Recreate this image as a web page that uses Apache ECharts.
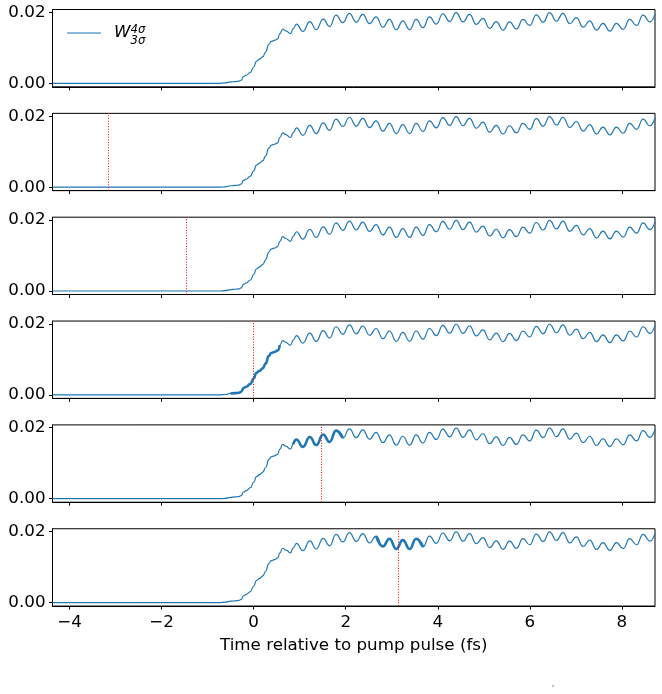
<!DOCTYPE html>
<html><head><meta charset="utf-8">
<script src="https://cdn.jsdelivr.net/npm/echarts@6/dist/echarts.min.js"></script>
<style>html,body{margin:0;padding:0;background:#fff}#c{width:662px;height:694px}</style>
</head><body><div id="c"></div>
<script>
// ---- data ----
const times = [-4.37,-1.20,-0.75,-0.62,-0.50,-0.40,-0.32,-0.27,-0.22,-0.16,-0.07,0.00,0.06,0.13,0.20,0.26,0.33,0.38,0.45,0.52,0.57,0.63,0.70,0.80,0.86,0.93,
1.07,1.22,1.36,1.51,1.65,1.79,1.94,2.08,2.23,2.37,2.52,2.66,2.81,2.95,3.10,3.24,3.39,3.53,3.68,3.82,3.97,4.11,4.26,4.40,4.55,4.69,4.84,4.98,
5.13,5.27,5.42,5.56,5.71,5.85,6.00,6.14,6.29,6.43,6.58,6.72,6.87,7.01,7.16,7.30,7.45,7.59,7.74,7.88,8.03,8.17,8.32,8.46,8.61,8.72];
const values = [0,0,0.0000,0.0001,0.0004,0.0005,0.0006,0.0009,0.0019,0.0023,0.0031,0.0046,0.0062,0.0068,0.0075,0.0088,0.0110,0.0118,0.0121,0.0125,0.0140,0.0153,0.0148,0.0140,0.0154,0.0167,
0.0146,0.0174,0.0151,0.0181,0.0160,0.0192,0.0171,0.0197,0.0172,0.0194,0.0168,0.0187,0.0158,0.0180,0.0151,0.0176,0.0151,0.0180,0.0157,0.0187,0.0167,0.0196,0.0174,0.0199,0.0173,0.0194,0.0166,0.0183,
0.0155,0.0174,0.0150,0.0173,0.0153,0.0180,0.0163,0.0193,0.0172,0.0199,0.0175,0.0197,0.0168,0.0185,0.0158,0.0176,0.0150,0.0169,0.0147,0.0169,0.0152,0.0180,0.0163,0.0192,0.0173,0.0195];
const markerTimes = [null, -3.15, -1.46, 0, 1.46, 3.15];
const windowHalfWidth = 0.6;
const xTicks = [-4, -2, 0, 2, 4, 6, 8];
const yTicks = [0, 0.02];
const xRange = [-4.37, 8.72];
const yRange = [-0.00098, 0.0208];
const xTitle = 'Time relative to pump pulse (fs)';

// ---- layout ----
const FONT = 'DejaVu Sans';
const FS = 16.7;
const left = 52.5, plotW = 602.5, top0 = 9.5, step = 103.85, plotH = 77.3;
const blue = '#1f77b4';
const data = times.map((t, i) => [t, values[i]]);

const grids = [], xAxes = [], yAxes = [], series = [];
for (let i = 0; i < 6; i++) {
  grids.push({left: left, top: top0 + i * step, width: plotW, height: plotH, show: true,
    borderColor: '#000', borderWidth: 1, backgroundColor: 'transparent', containLabel: false, outerBoundsMode: 'none'});
  xAxes.push({type: 'value', gridIndex: i, min: xRange[0], max: xRange[1],
    axisLine: {show: true, onZero: false, lineStyle: {color: '#000', width: 1}},
    axisTick: {show: true, inside: false, length: 3.5, customValues: xTicks, lineStyle: {color: '#000', width: 1}},
    axisLabel: {show: i === 5, customValues: xTicks, margin: 8, fontFamily: FONT, fontSize: FS, color: '#000',
      formatter: v => (v < 0 ? '\u2212' : '') + Math.abs(v)},
    splitLine: {show: false}});
  yAxes.push({type: 'value', gridIndex: i, min: yRange[0], max: yRange[1],
    axisLine: {show: true, onZero: false, lineStyle: {color: '#000', width: 1}},
    axisTick: {show: true, inside: false, length: 3.5, customValues: yTicks, lineStyle: {color: '#000', width: 1}},
    axisLabel: {show: true, customValues: yTicks, margin: 7, fontFamily: FONT, fontSize: FS, color: '#000',
      formatter: v => v.toFixed(2)},
    splitLine: {show: false}});
  const s = {type: 'line', xAxisIndex: i, yAxisIndex: i, data: data, showSymbol: false, symbol: 'none',
    smooth: 0.5, smoothMonotone: 'x', lineStyle: {color: blue, width: 1.2}, z: 2, silent: true};
  const mt = markerTimes[i];
  if (mt !== null) {
    s.markLine = {silent: true, symbol: ['none', 'none'], label: {show: false},
      lineStyle: {color: '#ff0000', type: [1, 1.65], width: 1}, data: [{xAxis: mt}], z: 5};
    series.push(s);
    series.push({type: 'line', xAxisIndex: i, yAxisIndex: i,
      data: data.filter(d => d[0] >= mt - windowHalfWidth && d[0] <= mt + windowHalfWidth),
      showSymbol: false, symbol: 'none', smooth: 0.5, smoothMonotone: 'x',
      lineStyle: {color: blue, width: 2.6}, z: 3, silent: true});
  } else {
    series.push(s);
  }
}

const chart = echarts.init(document.getElementById('c'), null, {renderer: 'canvas'});
chart.setOption({
  animation: false,
  backgroundColor: '#fff',
  grid: grids, xAxis: xAxes, yAxis: yAxes, series: series,
  graphic: [
    {type: 'line', shape: {x1: 67, y1: 33, x2: 101, y2: 33}, style: {stroke: blue, lineWidth: 1.2}},
    {type: 'text', x: 114, y: 33, style: {text: 'W', font: 'italic 16.7px "DejaVu Sans"', fill: '#000', textVerticalAlign: 'middle'}},
    {type: 'text', x: 130.5, y: 30, style: {text: '4σ', font: 'italic 11.7px "DejaVu Sans"', fill: '#000', textVerticalAlign: 'middle'}},
    {type: 'text', x: 130.5, y: 41, style: {text: '3σ', font: 'italic 11.7px "DejaVu Sans"', fill: '#000', textVerticalAlign: 'middle'}},
    {type: 'text', x: left + plotW / 2, y: 646, style: {text: xTitle, font: '16.7px "DejaVu Sans"', fill: '#000', textAlign: 'center', textVerticalAlign: 'middle'}},
    {type: 'text', x: 553, y: 689, style: {text: '\u02bb', font: '8px "DejaVu Sans"', fill: '#666', textAlign: 'center', textVerticalAlign: 'middle'}}
  ]
});
</script></body></html>
